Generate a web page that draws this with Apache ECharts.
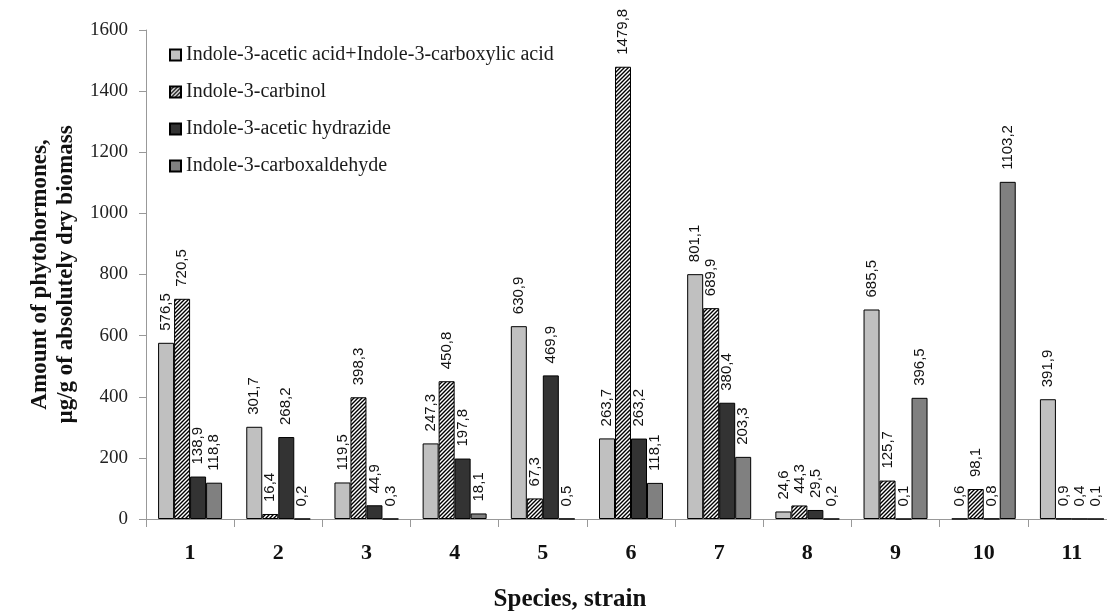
<!DOCTYPE html>
<html>
<head>
<meta charset="utf-8">
<script src="https://cdn.jsdelivr.net/npm/echarts@6/dist/echarts.min.js"></script>
<style>
html,body{margin:0;padding:0;background:#fff;}
#chart{width:1107px;height:614px;}
</style>
</head>
<body>
<div id="chart"></div>
<script>
var categories = ['1','2','3','4','5','6','7','8','9','10','11'];
var seriesNames = [
  'Indole-3-acetic acid+Indole-3-carboxylic acid',
  'Indole-3-carbinol',
  'Indole-3-acetic hydrazide',
  'Indole-3-carboxaldehyde'
];
var acidValues = [576.5, 301.7, 119.5, 247.3, 630.9, 263.7, 801.1, 24.6, 685.5, 0.6, 391.9];
var carbinolValues = [720.5, 16.4, 398.3, 450.8, 67.3, 1479.8, 689.9, 44.3, 125.7, 98.1, 0.9];
var hydrazideValues = [138.9, 268.2, 44.9, 197.8, 469.9, 263.2, 380.4, 29.5, 0.1, 0.8, 0.4];
var aldehydeValues = [118.8, 0.2, 0.3, 18.1, 0.5, 118.1, 203.3, 0.2, 396.5, 1103.2, 0.1];
var yTicks = [0, 200, 400, 600, 800, 1000, 1200, 1400, 1600];

// hatch pattern
var pc = document.createElement('canvas');
pc.width = 4; pc.height = 4;
var ctx = pc.getContext('2d');
ctx.fillStyle = '#ffffff';
ctx.fillRect(0, 0, 4, 4);
ctx.strokeStyle = '#000000';
ctx.lineWidth = 1.4;
ctx.beginPath();
ctx.moveTo(0, 4); ctx.lineTo(4, 0);
ctx.moveTo(-1, 1); ctx.lineTo(1, -1);
ctx.moveTo(3, 5); ctx.lineTo(5, 3);
ctx.stroke();

var serif = '"Liberation Serif", "Times New Roman", serif';
var sans = '"Liberation Sans", Arial, sans-serif';

function fmt(p) { return p.value.toFixed(1).replace('.', ','); }

function mkSeries(name, data, color) {
  return {
    name: name,
    type: 'bar',
    data: data,
    barWidth: 16,
    barGap: '0%',
    itemStyle: { color: color, borderColor: '#000', borderWidth: 1 },
    label: {
      show: true,
      position: 'top',
      rotate: 90,
      align: 'left',
      verticalAlign: 'middle',
      distance: 12,
      formatter: fmt,
      fontFamily: sans,
      fontSize: 15,
      color: '#111'
    },
    emphasis: { disabled: true }
  };
}

var chart = echarts.init(document.getElementById('chart'), null, { renderer: 'canvas' });
chart.setOption({
  animation: false,
  backgroundColor: '#fff',
  grid: { left: 146, top: 30, width: 970, bottom: 95, containLabel: false, outerBoundsMode: 'none' },
  legend: {
    orient: 'vertical',
    left: 164,
    top: 40,
    icon: 'rect',
    itemWidth: 11,
    itemHeight: 11,
    itemGap: 17,
    textStyle: { fontFamily: serif, fontSize: 20, color: '#1a1a1a' },
    data: seriesNames
  },
  xAxis: {
    type: 'category',
    data: categories,
    axisLine: { lineStyle: { color: '#999', width: 1 } },
    axisTick: { show: true, length: 8, lineStyle: { color: '#999' } },
    axisLabel: { fontFamily: serif, fontSize: 22, fontWeight: 'bold', color: '#111', margin: 23 }
  },
  yAxis: {
    type: 'value',
    min: 0,
    max: 1600,
    interval: 200,
    name: 'Amount of phytohormones,\nµg/g of absolutely dry biomass',
    nameLocation: 'middle',
    nameGap: 61,
    nameTextStyle: { fontFamily: serif, fontSize: 23, fontWeight: 'bold', color: '#111', lineHeight: 26 },
    axisLine: { show: true, lineStyle: { color: '#999', width: 1 } },
    axisTick: { show: true, length: 7, lineStyle: { color: '#999' } },
    splitLine: { show: false },
    axisLabel: {
      fontFamily: serif, fontSize: 19, color: '#222', margin: 18,
      formatter: function (v) { return yTicks.indexOf(v) >= 0 ? String(v) : ''; }
    }
  },
  graphic: [{
    type: 'text',
    x: 570,
    y: 600,
    style: { text: 'Species, strain', font: 'bold 25px ' + serif, fill: '#111', align: 'center', verticalAlign: 'middle' }
  }],
  series: [
    mkSeries(seriesNames[0], acidValues, '#c0c0c0'),
    mkSeries(seriesNames[1], carbinolValues, { image: pc, repeat: 'repeat' }),
    mkSeries(seriesNames[2], hydrazideValues, '#333333'),
    mkSeries(seriesNames[3], aldehydeValues, '#808080')
  ]
});
</script>
</body>
</html>
